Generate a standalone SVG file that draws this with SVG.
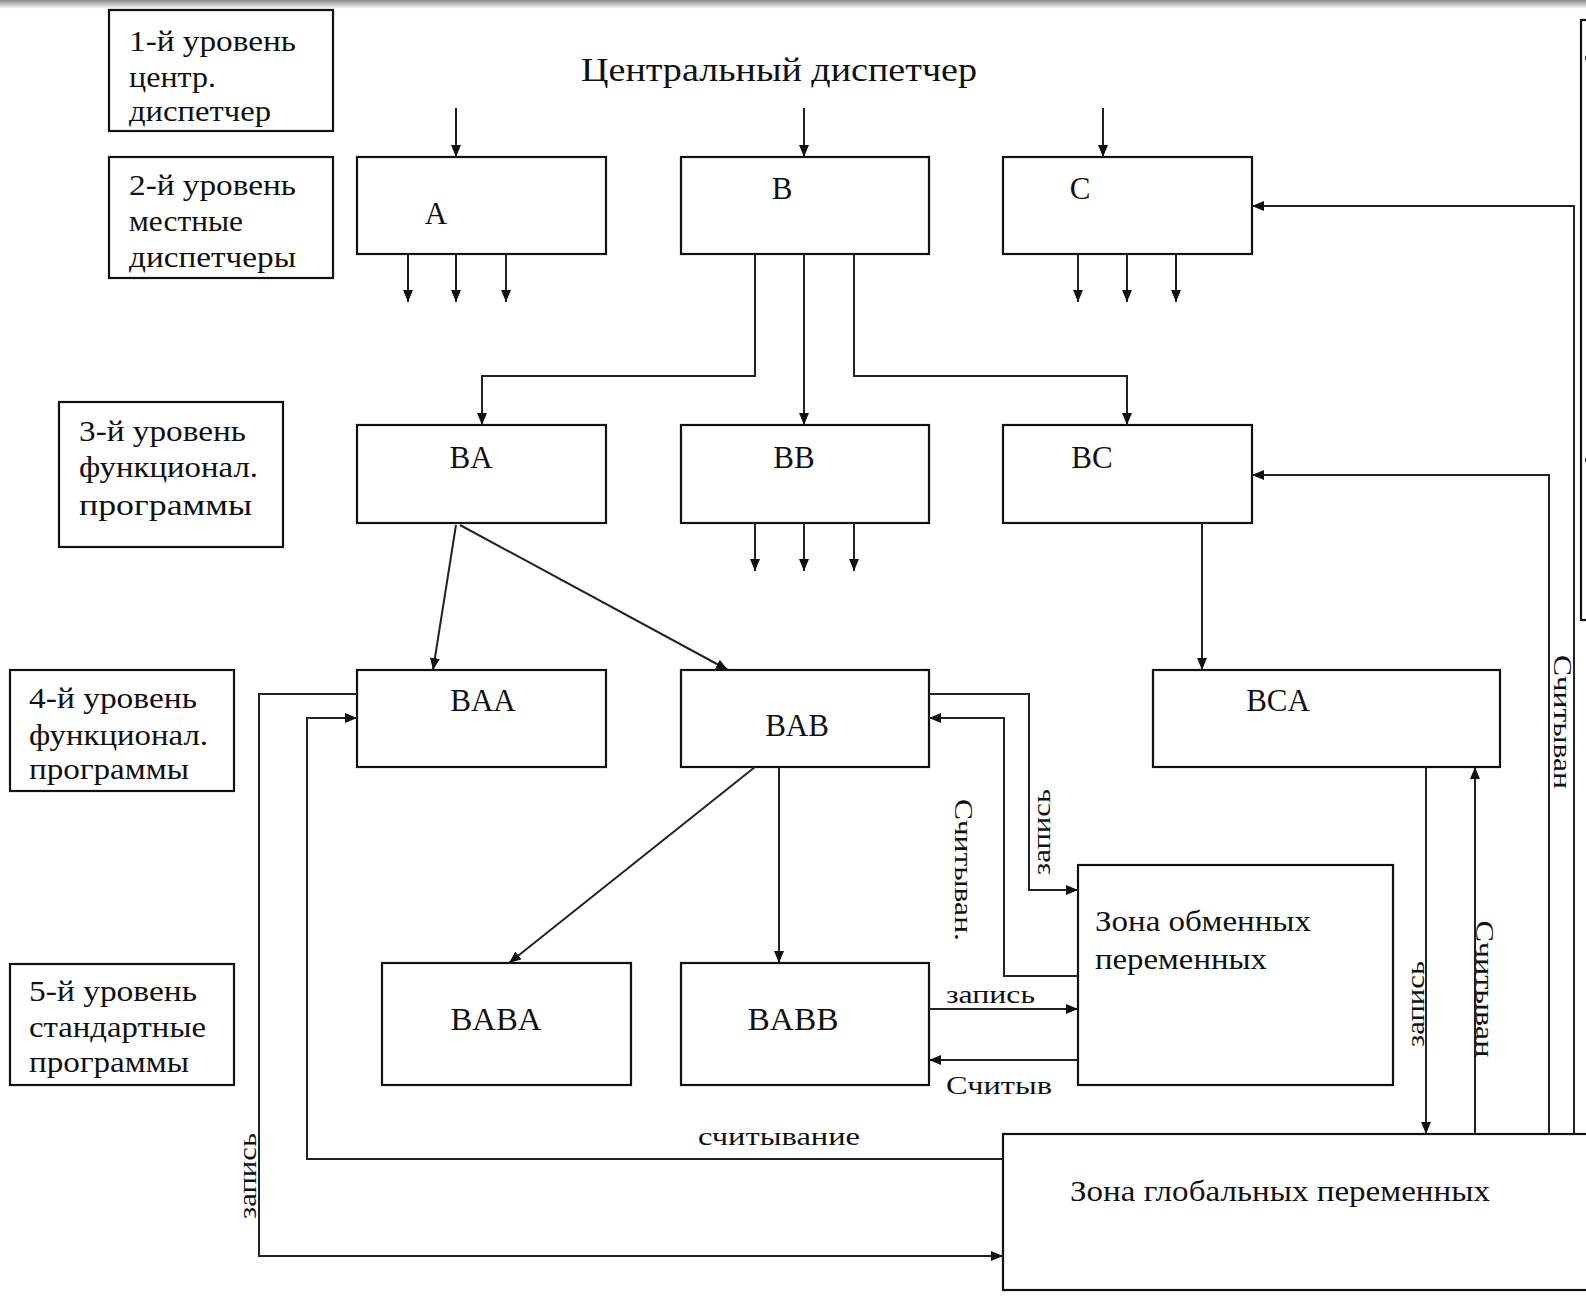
<svg xmlns="http://www.w3.org/2000/svg" width="1586" height="1297" viewBox="0 0 1586 1297">
<defs>
<linearGradient id="topband" x1="0" y1="0" x2="0" y2="1">
<stop offset="0" stop-color="#8a8a8a"/>
<stop offset="1" stop-color="#ffffff"/>
</linearGradient>
<marker id="ah" viewBox="0 0 12 10" refX="12" refY="5" markerWidth="12" markerHeight="10" markerUnits="userSpaceOnUse" orient="auto">
<path d="M0,0 L12,5 L0,10 Z" fill="#111"/>
</marker>
<style>
.box{fill:#fff;stroke:#111;stroke-width:2.2}
.ln{fill:none;stroke:#222;stroke-width:2}
.ar{fill:none;stroke:#222;stroke-width:2;marker-end:url(#ah)}
text{font-family:"Liberation Serif","DejaVu Serif",serif;fill:#111}
.lv{font-size:29px}
.nd{font-size:31px;text-anchor:middle}
.lb{font-size:26px}
</style>
</defs>
<rect x="0" y="0" width="1586" height="1297" fill="#fff"/>
<rect x="0" y="0" width="1586" height="9" fill="url(#topband)"/>

<text x="779" y="81" font-size="34" text-anchor="middle" textLength="396" lengthAdjust="spacingAndGlyphs">Центральный диспетчер</text>

<g id="level1"><rect class="box" x="109" y="10" width="224" height="121"/>
<text class="lv" x="129" y="51" textLength="167" lengthAdjust="spacingAndGlyphs">1-й уровень</text><text class="lv" x="129" y="87" textLength="87" lengthAdjust="spacingAndGlyphs">центр.</text><text class="lv" x="129" y="121" textLength="142" lengthAdjust="spacingAndGlyphs">диспетчер</text></g>
<g id="level2"><rect class="box" x="109" y="157" width="224" height="121"/>
<text class="lv" x="129" y="195" textLength="167" lengthAdjust="spacingAndGlyphs">2-й уровень</text><text class="lv" x="129" y="231" textLength="114" lengthAdjust="spacingAndGlyphs">местные</text><text class="lv" x="129" y="267" textLength="167" lengthAdjust="spacingAndGlyphs">диспетчеры</text></g>
<g id="level3"><rect class="box" x="59" y="402" width="224" height="145"/>
<text class="lv" x="79" y="441" textLength="167" lengthAdjust="spacingAndGlyphs">3-й уровень</text><text class="lv" x="79" y="477" textLength="179" lengthAdjust="spacingAndGlyphs">функционал.</text><text class="lv" x="79" y="515" textLength="173" lengthAdjust="spacingAndGlyphs">программы</text></g>
<g id="level4"><rect class="box" x="10" y="670" width="224" height="121"/>
<text class="lv" x="29" y="708" textLength="168" lengthAdjust="spacingAndGlyphs">4-й уровень</text><text class="lv" x="29" y="745" textLength="179" lengthAdjust="spacingAndGlyphs">функционал.</text><text class="lv" x="29" y="779" textLength="160" lengthAdjust="spacingAndGlyphs">программы</text></g>
<g id="level5"><rect class="box" x="10" y="964" width="224" height="121"/>
<text class="lv" x="29" y="1001" textLength="168" lengthAdjust="spacingAndGlyphs">5-й уровень</text><text class="lv" x="29" y="1037" textLength="177" lengthAdjust="spacingAndGlyphs">стандартные</text><text class="lv" x="29" y="1072" textLength="160" lengthAdjust="spacingAndGlyphs">программы</text></g>

<g id="A"><rect class="box" x="357" y="157" width="249" height="97"/><text class="nd" x="436" y="224">A</text></g>
<g id="B"><rect class="box" x="681" y="157" width="248" height="97"/><text class="nd" x="782" y="199">B</text></g>
<g id="C"><rect class="box" x="1003" y="157" width="249" height="97"/><text class="nd" x="1080" y="199">C</text></g>
<g id="BA"><rect class="box" x="357" y="425" width="249" height="98"/><text class="nd" x="471" y="468">BA</text></g>
<g id="BB"><rect class="box" x="681" y="425" width="248" height="98"/><text class="nd" x="794" y="468">BB</text></g>
<g id="BC"><rect class="box" x="1003" y="425" width="249" height="98"/><text class="nd" x="1092" y="468">BC</text></g>
<g id="BAA"><rect class="box" x="357" y="670" width="249" height="97"/><text class="nd" x="483" y="711">BAA</text></g>
<g id="BAB"><rect class="box" x="681" y="670" width="248" height="97"/><text class="nd" x="797" y="736">BAB</text></g>
<g id="BCA"><rect class="box" x="1153" y="670" width="347" height="97"/><text class="nd" x="1278" y="711">BCA</text></g>
<g id="BABA"><rect class="box" x="382" y="963" width="249" height="122"/><text class="nd" x="496" y="1030" textLength="91" lengthAdjust="spacingAndGlyphs">BABA</text></g>
<g id="BABB"><rect class="box" x="681" y="963" width="248" height="122"/><text class="nd" x="793" y="1030" textLength="91" lengthAdjust="spacingAndGlyphs">BABB</text></g>
<g id="zona-obmen"><rect class="box" x="1078" y="865" width="315" height="220"/>
<text class="lv" x="1095" y="931" textLength="216" lengthAdjust="spacingAndGlyphs">Зона обменных</text><text class="lv" x="1095" y="969" textLength="172" lengthAdjust="spacingAndGlyphs">переменных</text></g>
<g id="zona-global"><rect class="box" x="1003" y="1134" width="590" height="156"/>
<text class="lv" x="1070" y="1201" textLength="420" lengthAdjust="spacingAndGlyphs">Зона глобальных переменных</text></g>
<g id="side-box"><rect class="box" x="1581" y="20" width="20" height="600"/>
<circle cx="1588" cy="58" r="3" fill="#111"/><circle cx="1588" cy="460" r="3" fill="#111"/></g>

<g id="connectors">
<line class="ar" x1="456" y1="108" x2="456" y2="157"/>
<line class="ar" x1="804" y1="108" x2="804" y2="157"/>
<line class="ar" x1="1103" y1="108" x2="1103" y2="157"/>
<line class="ar" x1="408" y1="254" x2="408" y2="302"/>
<line class="ar" x1="456" y1="254" x2="456" y2="302"/>
<line class="ar" x1="506" y1="254" x2="506" y2="302"/>
<line class="ar" x1="1078" y1="254" x2="1078" y2="302"/>
<line class="ar" x1="1127" y1="254" x2="1127" y2="302"/>
<line class="ar" x1="1176" y1="254" x2="1176" y2="302"/>
<polyline class="ar" points="755,254 755,376 482,376 482,425"/>
<line class="ar" x1="804" y1="254" x2="804" y2="425"/>
<polyline class="ar" points="854,254 854,376 1127,376 1127,425"/>
<line class="ar" x1="755" y1="523" x2="755" y2="571"/>
<line class="ar" x1="804" y1="523" x2="804" y2="571"/>
<line class="ar" x1="854" y1="523" x2="854" y2="571"/>
<line class="ar" x1="456" y1="525" x2="433" y2="670"/>
<line class="ar" x1="460" y1="525" x2="728" y2="670"/>
<line class="ar" x1="1202" y1="523" x2="1202" y2="670"/>
<line class="ar" x1="755" y1="767" x2="509" y2="963"/>
<line class="ar" x1="779" y1="767" x2="779" y2="963"/>
<polyline class="ar" points="929,694 1029,694 1029,890 1078,890"/>
<polyline class="ar" points="1078,976 1004,976 1004,718 929,718"/>
<line class="ar" x1="929" y1="1009" x2="1078" y2="1009"/>
<line class="ar" x1="1078" y1="1060" x2="929" y2="1060"/>
<line class="ar" x1="1426" y1="767" x2="1426" y2="1134"/>
<line class="ar" x1="1475" y1="1134" x2="1475" y2="767"/>
<polyline class="ar" points="1549,1134 1549,475 1252,475"/>
<polyline class="ar" points="1574,1134 1574,206 1252,206"/>
<polyline class="ar" points="357,694 259,694 259,1256 1003,1256"/>
<polyline class="ar" points="1003,1159 307,1159 307,718 357,718"/>
<text class="lb" transform="translate(1050,832) rotate(-90)" text-anchor="middle" textLength="86" lengthAdjust="spacingAndGlyphs">запись</text>
<text class="lb" transform="translate(955,870) rotate(90)" text-anchor="middle" textLength="142" lengthAdjust="spacingAndGlyphs">Считыван.</text>
<text class="lb" x="946" y="1003" textLength="89" lengthAdjust="spacingAndGlyphs">запись</text>
<text class="lb" x="946" y="1094" textLength="106" lengthAdjust="spacingAndGlyphs">Считыв</text>
<text class="lb" transform="translate(1424,1004) rotate(-90)" text-anchor="middle" textLength="86" lengthAdjust="spacingAndGlyphs">запись</text>
<text class="lb" transform="translate(1476,989) rotate(90)" text-anchor="middle" textLength="137" lengthAdjust="spacingAndGlyphs">Считыван</text>
<text class="lb" transform="translate(1554,722) rotate(90)" text-anchor="middle" textLength="134" lengthAdjust="spacingAndGlyphs">Считыван</text>
<text class="lb" transform="translate(256,1176) rotate(-90)" text-anchor="middle" textLength="86" lengthAdjust="spacingAndGlyphs">запись</text>
<text class="lb" x="698" y="1145" textLength="162" lengthAdjust="spacingAndGlyphs">считывание</text>
</g>
</svg>
